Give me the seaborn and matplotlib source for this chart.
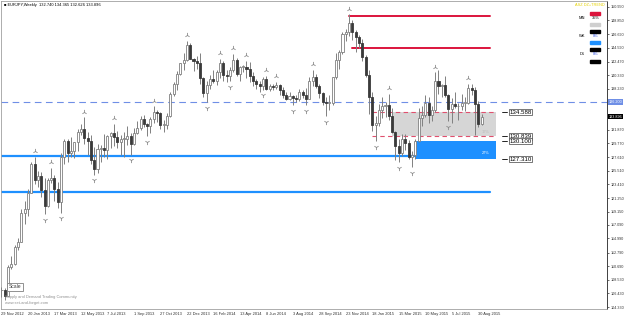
import matplotlib
matplotlib.use("Agg")
import matplotlib.pyplot as plt
import seaborn as sns
import pandas as pd
import numpy as np

sns.set_style("white")
plt.rcParams['font.family'] = ['Liberation Sans', 'DejaVu Sans']

# ---------------- data ----------------
opens = [106.9,107.0,106.1,110.6,111.0,113.6,114.5,118.9,119.6,122.1,
         126.6,124.0,124.7,122.5,120.1,124.1,124.3,122.7,120.6,127.6,
         130.1,128.2,128.5,129.9,131.6,132.0,130.6,130.2,127.2,125.8,
         128.9,129.0,128.8,130.9,131.3,130.8,129.9,130.4,130.5,130.9,
         129.6,131.3,132.2,133.6,132.8,132.4,133.6,134.7,134.4,132.6,
         132.6,134.0,137.5,139.0,140.6,142.2,142.7,145.0,142.9,142.5,
         142.2,139.9,137.6,138.8,139.8,139.5,140.9,142.3,140.4,140.3,
         141.1,142.7,140.6,141.6,141.6,141.3,140.2,139.4,139.0,138.6,
         139.8,138.2,138.7,138.5,138.9,138.0,137.3,136.6,137.1,136.8,
         136.7,137.8,137.2,136.7,139.4,140.1,138.7,137.6,136.2,136.0,
         136.1,140.0,142.7,143.9,146.8,147.1,148.5,147.0,146.3,145.3,
         143.2,140.4,136.9,132.6,132.9,135.0,135.6,135.7,134.0,131.5,
         129.4,128.3,130.4,129.8,127.7,128.0,130.1,133.7,134.2,136.1,
         134.2,135.0,139.5,138.7,138.8,137.3,135.1,135.9,135.5,135.5,
         136.1,136.1,138.4,138.0,135.9,132.74]
highs = [107.5,107.3,110.9,112.2,114.0,115.1,119.6,120.8,122.6,126.9,
         127.7,125.5,125.3,124.3,124.4,125.9,124.9,123.8,128.3,130.5,
         130.5,130.7,130.0,132.0,132.8,133.8,131.5,131.1,129.2,129.6,
         129.5,131.2,131.1,131.5,132.8,131.7,131.0,131.5,132.4,131.4,
         132.1,133.2,134.0,134.1,133.0,133.9,135.5,135.0,134.7,133.4,
         134.5,137.8,139.3,141.0,142.3,143.8,145.7,145.3,143.0,143.4,
         143.8,140.0,139.4,140.4,141.1,141.2,142.9,142.5,141.2,141.7,
         143.6,143.0,141.8,142.0,142.6,142.4,140.8,139.8,139.4,140.0,
         140.2,139.0,139.0,139.3,139.0,138.5,137.7,137.7,137.3,137.2,
         138.2,138.0,138.3,140.0,141.2,140.6,139.0,137.8,137.0,137.2,
         140.1,143.8,144.2,147.0,147.5,149.8,149.0,147.4,146.6,146.0,
         143.5,141.2,137.8,134.0,135.8,137.0,136.2,137.5,135.2,131.7,
         130.4,131.2,131.2,130.3,128.5,130.4,135.3,135.5,137.2,136.9,
         135.6,140.8,141.1,139.0,140.3,137.5,136.8,137.8,136.0,137.5,
         137.0,139.0,139.0,138.5,136.4,134.365]
lows = [105.9,105.4,106.0,110.2,110.9,113.2,114.4,117.2,118.4,122.0,
        123.4,122.9,121.4,118.8,119.8,123.6,120.8,119.7,119.0,126.5,
        126.8,127.6,127.5,128.6,131.0,129.7,128.0,126.6,124.9,125.2,
        126.9,127.7,127.4,129.1,129.4,129.0,127.9,127.6,129.5,128.0,
        129.5,131.2,131.9,132.3,130.9,131.3,132.9,133.1,132.0,131.5,
        132.0,133.8,137.1,138.1,140.4,141.2,142.6,142.8,141.0,141.3,
        139.0,137.0,136.2,138.2,139.1,138.8,139.9,139.5,139.3,139.4,
        140.9,140.3,139.4,140.9,139.9,139.3,138.7,138.2,137.8,138.1,
        138.1,137.9,138.0,138.2,137.2,136.8,136.5,136.5,135.7,136.2,
        136.3,136.8,135.7,136.6,138.7,138.3,136.8,135.7,134.0,135.0,
        135.7,139.8,141.3,143.6,145.6,146.5,145.8,143.9,144.6,142.5,
        140.0,134.3,131.7,130.1,132.5,133.7,133.9,133.4,131.3,127.1,
        126.8,127.8,128.7,127.4,126.1,127.4,129.9,132.4,133.8,133.0,
        133.3,134.6,137.4,137.0,137.0,133.2,132.9,135.3,133.4,134.9,
        134.8,135.9,137.2,131.0,132.3,132.626]
closes = [107.0,106.1,110.6,111.0,113.6,114.5,118.9,119.6,122.1,126.6,
          124.0,124.7,122.5,120.1,124.1,124.3,122.7,120.6,127.6,130.1,
          128.2,128.5,129.9,131.6,132.0,130.6,130.2,127.2,125.8,128.9,
          129.0,128.8,130.9,131.3,130.8,129.9,130.4,130.5,130.9,129.6,
          131.3,132.2,133.6,132.8,132.4,133.6,134.7,134.4,132.6,132.6,
          134.0,137.5,139.0,140.6,142.2,142.7,145.0,142.9,142.5,142.2,
          139.9,137.6,138.8,139.8,139.5,140.9,142.3,140.4,140.3,141.1,
          142.7,140.6,141.6,141.6,141.3,140.2,139.4,139.0,138.6,139.8,
          138.2,138.7,138.5,138.9,138.0,137.3,136.6,137.1,136.8,136.7,
          137.8,137.2,136.7,139.4,140.1,138.7,137.6,136.2,136.0,136.1,
          140.0,142.7,143.9,146.8,147.1,148.5,147.0,146.3,145.3,143.2,
          140.4,136.9,132.6,132.9,135.0,135.6,135.7,134.0,131.5,129.4,
          128.3,130.4,129.8,127.7,128.0,130.1,133.7,134.2,136.1,134.2,
          135.0,139.5,138.7,138.8,137.3,135.1,135.9,135.5,135.5,136.1,
          136.1,138.4,138.0,135.9,132.8,133.896]

fractal_up_bars = [10, 15, 25, 34, 46, 56, 66, 70, 74, 80, 83, 94, 105, 117, 131, 141]
fractal_down_bars = [13, 18, 28, 39, 44, 62, 69, 79, 88, 92, 98, 113, 120, 124, 135]

xtick_labels = ["29 Nov 2012", "20 Jan 2013", "17 Mar 2013", "12 May 2013", "7 Jul 2013",
                "1 Sep 2013", "27 Oct 2013", "22 Dec 2013", "16 Feb 2014", "13 Apr 2014",
                "8 Jun 2014", "3 Aug 2014", "28 Sep 2014", "23 Nov 2014", "18 Jan 2015",
                "15 Mar 2015", "10 May 2015", "5 Jul 2015", "30 Aug 2015"]
ytick_values = [150.950, 148.850, 146.690, 144.590, 142.470, 140.330, 138.230,
                131.870, 129.770, 127.610, 125.510, 123.410, 121.250, 119.150,
                117.090, 114.990, 112.790, 110.690, 108.530, 106.430, 104.330]

hline_dashed = 136.200
current_price = 133.896
blue_lines = [127.8, 122.2]
red_lines = [149.5, 144.5]
gray_zone = (130.839, 134.588)
blue_zone = (127.310, 130.100)
zone_tags = [134.588, 130.839, 130.100, 127.310]

df = pd.DataFrame({"o": opens, "h": highs, "l": lows, "c": closes})
df["i"] = np.arange(len(df))

# ---------------- figure ----------------
W, H = 625, 317
YMIN, YMAX = 104.02, 151.88
fig = plt.figure(figsize=(W / 100, H / 100), dpi=100)
ax = fig.add_axes([1 / W, 8 / H, 606 / W, 308 / H])
ax.set_xlim(-0.15, 182.9)
ax.set_ylim(YMIN, YMAX)

# zones
ax.fill_between([118, 149.5], gray_zone[0], gray_zone[1], color="#d6d6d6", zorder=1, lw=0)
ax.fill_between([124.8, 149.5], blue_zone[0], blue_zone[1], color="#1e90ff", zorder=1, lw=0)
ax.plot([112, 149.5], [gray_zone[1]] * 2, color="#e0506e", ls=(0, (4, 3)), lw=0.8, zorder=2)
ax.plot([112, 149.5], [gray_zone[0]] * 2, color="#e0506e", ls=(0, (4, 3)), lw=0.8, zorder=2)

# horizontal lines
ax.axhline(hline_dashed, color="#6f8fe6", ls=(0, (6, 4)), lw=0.8, zorder=2)
for y in blue_lines:
    ax.plot([-1, 147.6], [y, y], color="#1e90ff", lw=1.6, zorder=2)
ax.plot([105, 147.6], [red_lines[0]] * 2, color="#dc143c", lw=1.4, zorder=2)
ax.plot([106, 147.6], [red_lines[1]] * 2, color="#dc143c", lw=1.4, zorder=2)

# candles
up = df[df.c >= df.o]
dn = df[df.c < df.o]
ax.vlines(df.i, df.l, df.h, color="#808080", lw=0.7, zorder=3)
ax.bar(up.i, (up.c - up.o).clip(lower=0.12), bottom=up.o, width=0.62,
       color="white", edgecolor="#808080", linewidth=0.6, zorder=4)
ax.bar(dn.i, (dn.o - dn.c), bottom=dn.c, width=0.62,
       color="#3a3a3a", edgecolor="#3a3a3a", linewidth=0.6, zorder=4)

# fractals
fu = pd.DataFrame({"x": fractal_up_bars, "y": [highs[b] + 0.9 for b in fractal_up_bars]})
fd = pd.DataFrame({"x": fractal_down_bars, "y": [lows[b] - 0.9 for b in fractal_down_bars]})
sns.scatterplot(data=fu, x="x", y="y", marker="2", s=14, color="#8c8c8c", linewidth=0.6, ax=ax, zorder=5)
sns.scatterplot(data=fd, x="x", y="y", marker="1", s=14, color="#8c8c8c", linewidth=0.6, ax=ax, zorder=5)

# zone percent labels
ax.text(147.3, 131.6, "17%", fontsize=2.8, color="#bdbdbd", ha="right", va="center", zorder=6)
ax.text(147.3, 128.3, "27%", fontsize=2.8, color="white", ha="right", va="center", zorder=6)

# zone price tags
for v in zone_tags:
    ax.plot([151.3, 152.6], [v, v], color="black", lw=0.6, zorder=6)
    ax.text(153.4, v, f"{v:.3f}", fontsize=4.4, color="black", va="center", ha="left", zorder=6,
            bbox=dict(boxstyle="square,pad=0.1", fc="white", ec="#404040", lw=0.5))

# axes styling
for s in ["top", "left", "bottom"]:
    ax.spines[s].set_color("#a0a0a0")
    ax.spines[s].set_linewidth(0.6)
ax.spines["right"].set_color("#404040")
ax.spines["right"].set_linewidth(0.7)
ax.yaxis.tick_right()
ax.set_yticks(ytick_values)
ax.set_yticklabels([f"{v:.3f}" for v in ytick_values])
ax.set_xticks(np.arange(0, 145, 8))
ax.set_xticklabels(xtick_labels, ha="left")
ax.tick_params(axis="y", length=1.5, width=0.5, pad=1.0, labelsize=2.7, colors="#303030")
ax.tick_params(axis="x", length=1.5, width=0.5, pad=0.8, labelsize=2.9, colors="#303030")
ax.set_xlabel("")
ax.set_ylabel("")
ax.grid(False)

# highlighted right-axis labels
def yfrac(v):
    return (v - YMIN) / (YMAX - YMIN)

ax.text(1.003, yfrac(hline_dashed), "136.200", transform=ax.transAxes,
        fontsize=2.7, color="white", va="center", ha="left",
        bbox=dict(boxstyle="square,pad=0.2", fc="#6f8fe6", ec="none"))
ax.text(1.003, yfrac(current_price), "133.896", transform=ax.transAxes,
        fontsize=2.7, color="white", va="center", ha="left",
        bbox=dict(boxstyle="square,pad=0.2", fc="black", ec="none"))

# header
fig.text(4 / W, 1 - 5 / H, "\u25a0 EURJPY,Weekly  132.740 134.365 132.626 133.896",
         fontsize=2.9, color="black", va="center", ha="left")

# indicator panel (top right)
fig.text(590 / W, 1 - 5 / H, "ASZ DZ+TREND", fontsize=2.8, color="#e6d200", ha="center", va="center")
panel = [("MN", "35%", "#dc143c", "#cfcfcf", 12, 18, 23),
         ("WK", "0%", "black", "#1e90ff", 30, 36, 41),
         ("D1", "0%", "black", "black", 48, 54, 60)]
for name, pct, c1, c2, y1, ym, y2 in panel:
    fig.text(582 / W, 1 - ym / H, name, fontsize=2.9, color="black", ha="center", va="center")
    fig.text(596 / W, 1 - ym / H, pct, fontsize=2.9, color="black" if pct != "0%" else "#3050e0",
             ha="center", va="center")
    fig.patches.append(plt.Rectangle((590 / W, 1 - (y1 + 3) / H), 10 / W, 3 / H,
                                     transform=fig.transFigure, color=c1, figure=fig))
    fig.patches.append(plt.Rectangle((590 / W, 1 - (y2 + 3) / H), 10 / W, 3 / H,
                                     transform=fig.transFigure, color=c2, figure=fig))

# bottom-left texts
fig.text(15 / W, 1 - 287 / H, "Scale", fontsize=3.6, color="#404040", ha="center", va="center",
         bbox=dict(boxstyle="square,pad=0.25", fc="white", ec="#808080", lw=0.6))
fig.text(5 / W, 1 - 297 / H, "Supply and Demand Trading Community", fontsize=2.9, color="#909090",
         ha="left", va="center")
fig.text(5 / W, 1 - 303 / H, "www.set-and-forget.com", fontsize=2.9, color="#909090",
         ha="left", va="center")

fig.savefig("out.png", dpi=100)
